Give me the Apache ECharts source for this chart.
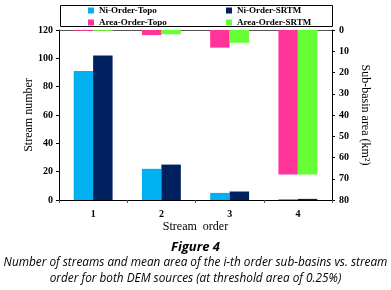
<!DOCTYPE html>
<html>
<head>
<meta charset="utf-8">
<script src="https://cdn.jsdelivr.net/npm/echarts@6/dist/echarts.min.js"></script>
<style>
  html, body { margin: 0; padding: 0; background: #fff; }
  #chart { width: 391px; height: 290px; }
</style>
</head>
<body>
<div id="chart"></div>
<script>
// stream orders
var orders = ['1', '2', '3', '4']
// number of streams
var niTopo = [91, 22, 5, 0.6]
var niSrtm = [102, 25, 6, 0.8]
// mean sub-basin area (km2), plotted on inverted right axis
var areaTopo = [0.4, 2.4, 8.3, 68]
var areaSrtm = [0.4, 2.0, 6.0, 68]

var serif = 'Liberation Serif'
var chart = echarts.init(document.getElementById('chart'))

var legendText = { fontFamily: serif, fontWeight: 'bold', fontSize: 9, color: '#000' }

chart.setOption({
  animation: false,
  grid: { left: 59, right: 59, top: 30, bottom: 90 },
  legend: [
    {
      orient: 'vertical', left: 88, top: 6, itemWidth: 6, itemHeight: 6, itemGap: 3,
      icon: 'rect', textStyle: legendText, padding: 0,
      data: ['Ni-Order-Topo', 'Area-Order-Topo']
    },
    {
      orient: 'vertical', left: 226, top: 6, itemWidth: 6, itemHeight: 6, itemGap: 3,
      icon: 'rect', textStyle: legendText, padding: 0,
      data: ['Ni-Order-SRTM', 'Area-Order-SRTM']
    }
  ],
  xAxis: [
    {
      type: 'category',
      data: orders,
      name: 'Stream  order',
      nameLocation: 'middle',
      nameGap: 21,
      nameMoveOverlap: false,
      nameTextStyle: { fontFamily: serif, fontSize: 12, color: '#000' },
      axisLine: { lineStyle: { color: '#000' } },
      axisTick: { show: true, length: 3, lineStyle: { color: '#555' } },
      axisLabel: { fontFamily: serif, fontWeight: 'bold', fontSize: 10, color: '#000', margin: 9 }
    },
    {
      type: 'category',
      data: orders,
      position: 'top',
      axisLine: { show: true, lineStyle: { color: '#555' } },
      axisTick: { show: false },
      axisLabel: { show: false }
    }
  ],
  yAxis: [
    {
      type: 'value',
      min: 0, max: 120, interval: 20,
      name: 'Stream number',
      nameLocation: 'middle',
      nameGap: 24,
      nameMoveOverlap: false,
      nameTextStyle: { fontFamily: serif, fontSize: 12, color: '#000' },
      axisLine: { show: true, lineStyle: { color: '#000' } },
      axisTick: { show: true, length: 3, lineStyle: { color: '#000' } },
      axisLabel: { fontFamily: serif, fontWeight: 'bold', fontSize: 10, color: '#000', margin: 6 },
      splitLine: { show: false }
    },
    {
      type: 'value',
      inverse: true,
      min: 0, max: 80, interval: 10,
      name: 'Sub-basin area (km²)',
      nameLocation: 'middle',
      nameGap: 27,
      nameMoveOverlap: false,
      nameRotate: -90,
      nameTextStyle: { fontFamily: serif, fontSize: 12, color: '#000' },
      axisLine: { show: true, lineStyle: { color: '#000' } },
      axisTick: { show: true, length: 3, lineStyle: { color: '#000' } },
      axisLabel: { fontFamily: serif, fontWeight: 'bold', fontSize: 10, color: '#000', margin: 7 },
      splitLine: { show: false }
    }
  ],
  series: [
    {
      name: 'Ni-Order-Topo', type: 'bar', xAxisIndex: 0, yAxisIndex: 0,
      data: niTopo, barGap: 0, barCategoryGap: '43%', itemStyle: { color: '#00b0f0' }
    },
    {
      name: 'Ni-Order-SRTM', type: 'bar', xAxisIndex: 0, yAxisIndex: 0,
      data: niSrtm, barGap: 0, barCategoryGap: '43%', itemStyle: { color: '#002060' }
    },
    {
      name: 'Area-Order-Topo', type: 'bar', xAxisIndex: 1, yAxisIndex: 1,
      data: areaTopo, barGap: 0, barCategoryGap: '43%', itemStyle: { color: '#ff3399' }
    },
    {
      name: 'Area-Order-SRTM', type: 'bar', xAxisIndex: 1, yAxisIndex: 1,
      data: areaSrtm, barGap: 0, barCategoryGap: '43%', itemStyle: { color: '#66ff33' }
    }
  ],
  graphic: [
    {
      type: 'rect', left: 60, top: 5, z: -1,
      shape: { width: 272, height: 21 },
      style: { fill: '#fff', stroke: '#000', lineWidth: 1 }
    },
    {
      type: 'text', left: 'center', top: 241,
      style: { text: 'Figure 4', font: 'italic bold 13px "Open Sans"', fill: '#000' }
    },
    {
      type: 'text', left: 'center', top: 257,
      style: { text: 'Number of streams and mean area of the i-th order sub-basins vs. stream', font: 'italic 11.8px "Open Sans"', fill: '#000' }
    },
    {
      type: 'text', left: 'center', top: 273,
      style: { text: 'order for both DEM sources (at threshold area of 0.25%)', font: 'italic 11.8px "Open Sans"', fill: '#000' }
    }
  ]
})
</script>
</body>
</html>
